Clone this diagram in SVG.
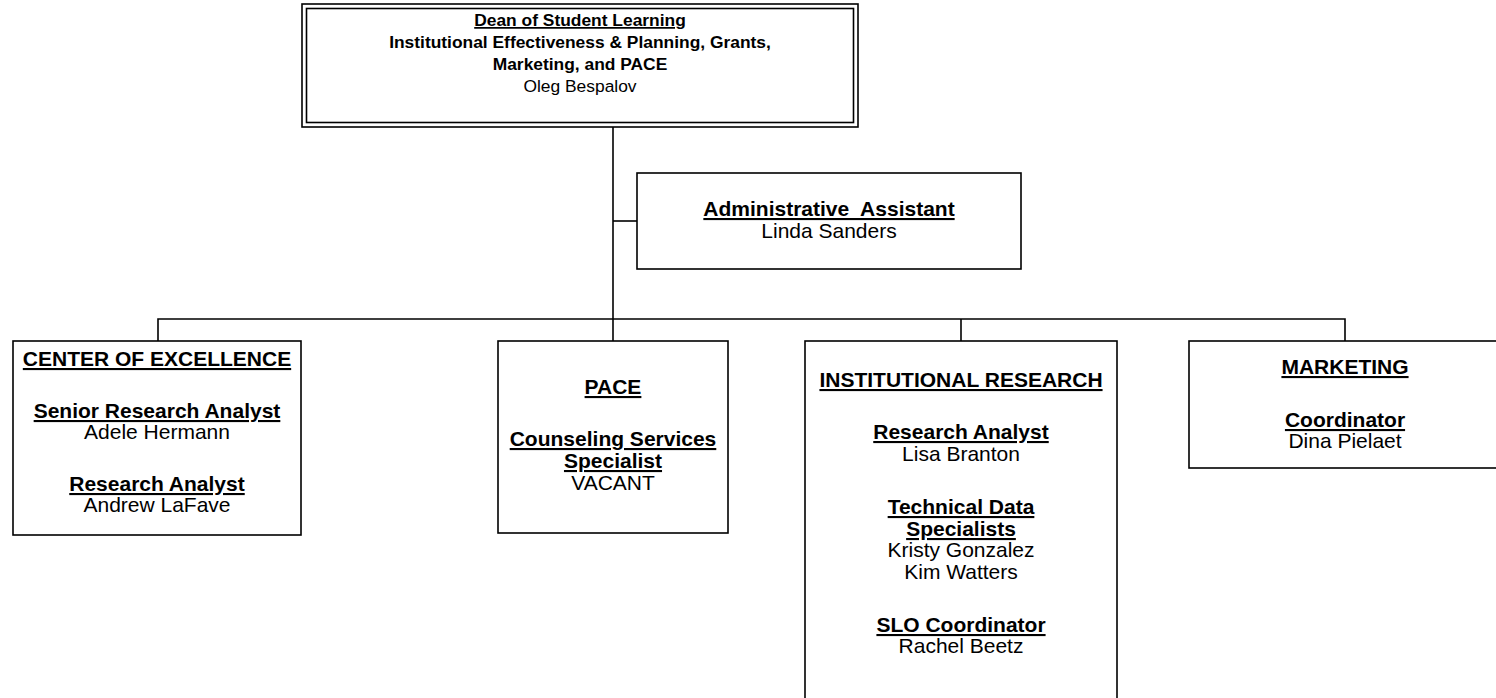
<svg xmlns="http://www.w3.org/2000/svg" width="1496" height="698" viewBox="0 0 1496 698">
<style>
  .box { fill: #fff; stroke: #000; stroke-width: 1.6; }
  .conn { fill: none; stroke: #000; stroke-width: 1.6; }
  text { font-family: "Liberation Sans", Arial, sans-serif; font-size: 21px; fill: #000; text-anchor: middle; }
  .top text { font-size: 17.4px; }
  .t { font-weight: bold; text-decoration: underline; }
  .b { font-weight: bold; }
</style>
<rect width="1496" height="698" fill="#fff"/>
<g id="connectors">
  <path class="conn" d="M613 127 V319"/>
  <path class="conn" d="M613 221 H637"/>
  <path class="conn" d="M158 341 V319 H1345 V341"/>
  <path class="conn" d="M613 319 V341"/>
  <path class="conn" d="M961 319 V341"/>
</g>
<g id="dean" class="top">
  <rect class="box" x="302" y="4" width="556" height="123"/>
  <rect class="box" x="306.5" y="8.5" width="547" height="114"/>
  <text x="580" y="26" class="t">Dean of Student Learning</text>
  <text x="580" y="48" class="b">Institutional Effectiveness &amp; Planning, Grants,</text>
  <text x="580" y="70" class="b">Marketing, and PACE</text>
  <text x="580" y="92">Oleg Bespalov</text>
</g>
<g id="admin">
  <rect class="box" x="637" y="173" width="384" height="96"/>
  <text x="829" y="216" class="t" xml:space="preserve">Administrative  Assistant</text>
  <text x="829" y="238">Linda Sanders</text>
</g>
<g id="coe">
  <rect class="box" x="13" y="341" width="288" height="194"/>
  <text x="157" y="366" class="t">CENTER OF EXCELLENCE</text>
  <text x="157" y="418" class="t">Senior Research Analyst</text>
  <text x="157" y="439">Adele Hermann</text>
  <text x="157" y="491" class="t">Research Analyst</text>
  <text x="157" y="512">Andrew LaFave</text>
</g>
<g id="pace">
  <rect class="box" x="498" y="341" width="230" height="192"/>
  <text x="613" y="394" class="t">PACE</text>
  <text x="613" y="446" class="t">Counseling Services</text>
  <text x="613" y="468" class="t">Specialist</text>
  <text x="613" y="490">VACANT</text>
</g>
<g id="ir">
  <rect class="box" x="805" y="341" width="312" height="370"/>
  <text x="961" y="387" class="t">INSTITUTIONAL RESEARCH</text>
  <text x="961" y="439" class="t">Research Analyst</text>
  <text x="961" y="461">Lisa Branton</text>
  <text x="961" y="514" class="t">Technical Data</text>
  <text x="961" y="536" class="t">Specialists</text>
  <text x="961" y="557">Kristy Gonzalez</text>
  <text x="961" y="579">Kim Watters</text>
  <text x="961" y="632" class="t">SLO Coordinator</text>
  <text x="961" y="653">Rachel Beetz</text>
</g>
<g id="marketing">
  <rect class="box" x="1189" y="341" width="312" height="127"/>
  <text x="1345" y="374" class="t">MARKETING</text>
  <text x="1345" y="427" class="t">Coordinator</text>
  <text x="1345" y="448">Dina Pielaet</text>
</g>
</svg>
